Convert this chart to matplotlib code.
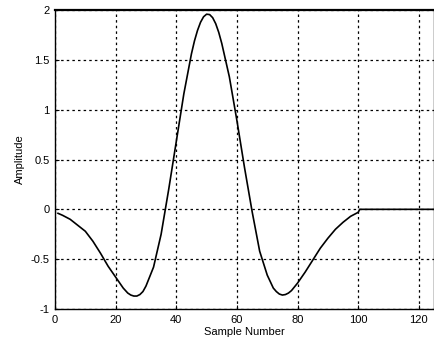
import matplotlib
matplotlib.use("Agg")
import matplotlib.pyplot as plt

# samples
sample = [1, 2.5, 5, 7.5, 10, 12.5, 15, 17.5, 20, 22.5, 24, 25, 26, 27, 28, 29,
          30, 32.5, 35, 37.5, 40, 42.5, 45, 46, 47, 48, 49, 50, 51, 52, 53, 54,
          55, 57.5, 60, 62.5, 65, 67.5, 70, 72, 73, 74, 75, 76, 77, 78, 80,
          82.5, 85, 87.5, 90, 92.5, 95, 97.5, 100, 100.5, 125]
amplitude = [-0.04, -0.06, -0.10, -0.16, -0.22, -0.32, -0.44, -0.57, -0.68,
             -0.79, -0.84, -0.86, -0.87, -0.87, -0.855, -0.825, -0.77, -0.58,
             -0.25, 0.20, 0.68, 1.16, 1.56, 1.69, 1.795, 1.877, 1.932, 1.958,
             1.954, 1.923, 1.863, 1.776, 1.665, 1.33, 0.89, 0.42, -0.02, -0.42,
             -0.66, -0.79, -0.825, -0.85, -0.86, -0.855, -0.84, -0.815, -0.74,
             -0.63, -0.51, -0.39, -0.29, -0.20, -0.13, -0.07, -0.03, 0.0, 0.0]

xticks = [0, 20, 40, 60, 80, 100, 120]
yticks = [-1, -0.5, 0, 0.5, 1, 1.5, 2]
yticklabels = ['-1', '-0.5', '0', '0.5', '1', '1.5', '2']

plt.rcParams['font.family'] = ['Liberation Sans', 'DejaVu Sans']

fig = plt.figure(figsize=(4.34, 3.44), dpi=100)
ax = fig.add_axes([55/434, 35/344, 379/434, 299/344])

ax.plot(sample, amplitude, color='black', linewidth=1.2)

ax.set_xlim(0, 125)
ax.set_ylim(-1, 2)
ax.set_xticks(xticks)
ax.set_yticks(yticks)
ax.set_yticklabels(yticklabels)
ax.tick_params(direction='in', length=3, labelsize=8, pad=4)
ax.grid(True, color='black', linestyle=(0, (2, 2.5)), linewidth=0.9)
for s in ax.spines.values():
    s.set_linewidth(1.0)
ax.spines['top'].set_linewidth(1.6)

ax.set_xlabel('Sample Number', fontsize=8, labelpad=2)
ax.set_ylabel('Amplitude', fontsize=8, labelpad=4)

fig.savefig('out.png', dpi=100)
